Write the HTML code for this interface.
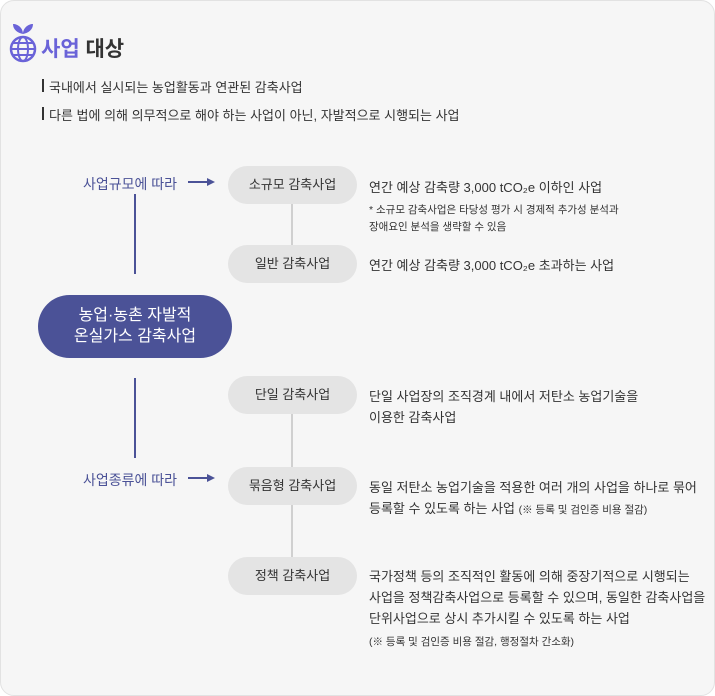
<!DOCTYPE html>
<html><head><meta charset="utf-8"><style>
body{margin:0;width:715px;height:696px;background:#fff;font-family:"Liberation Sans","Noto Sans CJK KR",sans-serif;}
.box{position:absolute;left:0;top:0;width:713px;height:694px;background:#f6f6f6;border:1px solid #e2e2e2;border-radius:14px;}
.a{position:absolute;white-space:nowrap;}
.pill{position:absolute;left:228px;width:129px;height:38px;border-radius:19px;background:#e4e4e4;color:#333;font-size:13px;line-height:38px;text-align:center;}
.d{font-size:13px;color:#333;line-height:21px;}
.s{font-size:10.5px;color:#333;line-height:17px;}
.blue{color:#4b5297;font-size:14px;}
</style></head><body>
<div class="box"></div>
<svg class="a" style="left:8px;top:20px" width="30" height="44" viewBox="0 0 30 44">
<path d="M15 14 C15 8 10 4 5 4 C5 10 10 13 15 14Z M15 14 C15 8 20 4 25 4 C25 10 20 13 15 14Z" fill="#6a63d8"/>
<circle cx="15" cy="29" r="12" fill="none" stroke="#6a63d8" stroke-width="2.5"/>
<ellipse cx="15" cy="29" rx="5" ry="12" fill="none" stroke="#6a63d8" stroke-width="2"/>
<line x1="3" y1="29" x2="27" y2="29" stroke="#6a63d8" stroke-width="2"/>
<line x1="5" y1="23" x2="25" y2="23" stroke="#6a63d8" stroke-width="2"/>
<line x1="5" y1="35" x2="25" y2="35" stroke="#6a63d8" stroke-width="2"/>
</svg>
<div class="a" style="left:41px;top:33px;font-size:21px;font-weight:bold;"><span style="color:#6a63d8">사업</span> <span style="color:#333">대상</span></div>
<div class="a" style="left:42px;top:79px;width:2px;height:13px;background:#333"></div>
<div class="a" style="left:49px;top:77px;font-size:13px;color:#333">국내에서 실시되는 농업활동과 연관된 감축사업</div>
<div class="a" style="left:42px;top:107px;width:2px;height:13px;background:#333"></div>
<div class="a" style="left:49px;top:105px;font-size:13px;color:#333">다른 법에 의해 의무적으로 해야 하는 사업이 아닌, 자발적으로 시행되는 사업</div>

<div class="a blue" style="left:83px;top:174px">사업규모에 따라</div>
<div class="a blue" style="left:83px;top:470px">사업종류에 따라</div>
<svg class="a" style="left:0;top:0" width="715" height="696">
<line x1="188" y1="182" x2="210" y2="182" stroke="#4b5297" stroke-width="2"/>
<polygon points="215,182 207,178 207,186" fill="#4b5297"/>
<line x1="188" y1="478" x2="210" y2="478" stroke="#4b5297" stroke-width="2"/>
<polygon points="215,478 207,474 207,482" fill="#4b5297"/>
<line x1="135" y1="194" x2="135" y2="274" stroke="#4b5297" stroke-width="2"/>
<line x1="135" y1="378" x2="135" y2="458" stroke="#4b5297" stroke-width="2"/>
<line x1="292" y1="203" x2="292" y2="245" stroke="#aaa" stroke-width="1"/>
<line x1="292" y1="413" x2="292" y2="467" stroke="#aaa" stroke-width="1"/>
<line x1="292" y1="505" x2="292" y2="557" stroke="#aaa" stroke-width="1"/>
</svg>
<div class="a" style="left:38px;top:295px;width:194px;height:63px;border-radius:32px;background:#4b5297;color:#fff;font-size:16px;line-height:21px;text-align:center;padding-top:10px;box-sizing:border-box">농업·농촌 자발적<br>온실가스 감축사업</div>

<div class="pill" style="top:166px">소규모 감축사업</div>
<div class="pill" style="top:245px">일반 감축사업</div>
<div class="pill" style="top:376px">단일 감축사업</div>
<div class="pill" style="top:467px">묶음형 감축사업</div>
<div class="pill" style="top:557px">정책 감축사업</div>

<div class="a d" style="left:369px;top:177px">연간 예상 감축량 3,000 tCO₂e 이하인 사업</div>
<div class="a s" style="left:369px;top:202px">* 소규모 감축사업은 타당성 평가 시 경제적 추가성 분석과<br>장애요인 분석을 생략할 수 있음</div>
<div class="a d" style="left:369px;top:255px">연간 예상 감축량 3,000 tCO₂e 초과하는 사업</div>
<div class="a d" style="left:369px;top:386px">단일 사업장의 조직경계 내에서 저탄소 농업기술을<br>이용한 감축사업</div>
<div class="a d" style="left:369px;top:477px">동일 저탄소 농업기술을 적용한 여러 개의 사업을 하나로 묶어<br>등록할 수 있도록 하는 사업 <span style="font-size:10.5px">(※ 등록 및 검인증 비용 절감)</span></div>
<div class="a d" style="left:369px;top:566px">국가정책 등의 조직적인 활동에 의해 중장기적으로 시행되는<br>사업을 정책감축사업으로 등록할 수 있으며, 동일한 감축사업을<br>단위사업으로 상시 추가시킬 수 있도록 하는 사업</div>
<div class="a s" style="left:369px;top:634px">(※ 등록 및 검인증 비용 절감, 행정절차 간소화)</div>
</body></html>
